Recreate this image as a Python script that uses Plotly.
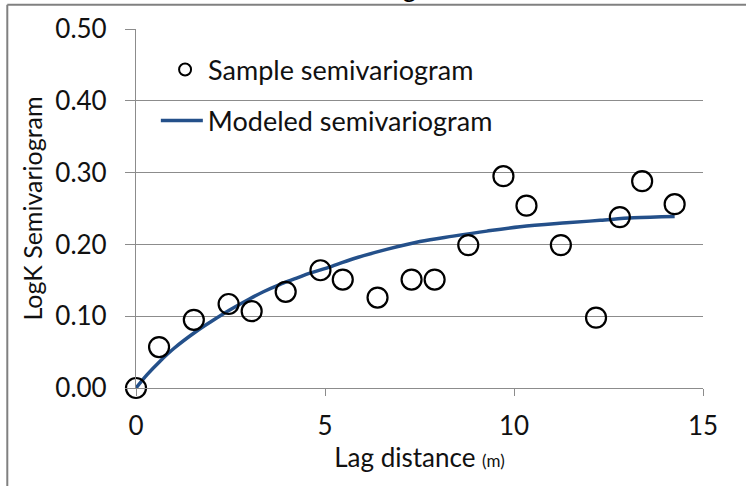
import plotly.graph_objects as go

# Sample semivariogram points
lag_sample = [0, 0.61, 1.53, 2.45, 3.06, 3.96, 4.88, 5.47, 6.39, 7.29, 7.90, 8.79, 9.72, 10.33, 11.24, 12.17, 12.80, 13.39, 14.25]
gamma_sample = [0.0, 0.057, 0.095, 0.117, 0.107, 0.134, 0.164, 0.151, 0.126, 0.151, 0.151, 0.199, 0.295, 0.254, 0.199, 0.098, 0.238, 0.288, 0.256]

# Modeled semivariogram
lag_model = [0, 0.3, 0.63, 1.0, 1.6, 2.0, 2.49, 3.0, 3.37, 3.8, 4.25, 4.6, 5.04, 5.75, 6.63, 7.51, 8.39, 9.28, 10.16, 11.39, 12.28, 13.16, 14.25]
gamma_model = [0.0, 0.019, 0.037, 0.055, 0.079, 0.093, 0.109, 0.124, 0.134, 0.144, 0.153, 0.160, 0.167, 0.180, 0.193, 0.204, 0.2115, 0.2185, 0.2245, 0.230, 0.2335, 0.237, 0.239]

x_ticks = [0, 5, 10, 15]
y_ticks = [0.0, 0.1, 0.2, 0.3, 0.4, 0.5]

FONT = "Lato"
GRID = "#8c8c8c"
LINE_BLUE = "#24508a"
FS = 26

fig = go.Figure()
fig.add_trace(go.Scatter(
    x=lag_model, y=gamma_model, mode="lines", name="Modeled semivariogram",
    line=dict(color=LINE_BLUE, width=3.5, shape="spline", smoothing=1.0),
    legend="legend2", cliponaxis=False,
))
fig.add_trace(go.Scatter(
    x=lag_sample, y=gamma_sample, mode="markers", name="Sample semivariogram",
    marker=dict(symbol="circle-open", size=20, color="black", line=dict(width=2.2, color="black")),
    legend="legend", cliponaxis=False,
))

fig.update_layout(
    width=746, height=486,
    margin=dict(l=136, r=43, t=29, b=98),
    paper_bgcolor="white", plot_bgcolor="white",
    font=dict(family=FONT, size=FS, color="#111111"),
    showlegend=True,
    legend=dict(x=0.046, y=0.886, xanchor="left", yanchor="middle",
                bgcolor="rgba(0,0,0,0)", font=dict(size=27, family=FONT),
                itemsizing="constant", itemwidth=36),
    legend2=dict(x=0.035, y=0.744, xanchor="left", yanchor="middle",
                 bgcolor="rgba(0,0,0,0)", font=dict(size=27, family=FONT),
                 itemwidth=42),
    xaxis=dict(range=[0, 15], tickvals=x_ticks, ticktext=[str(v) for v in x_ticks],
               showgrid=False, zeroline=False, showline=True, linecolor=GRID, linewidth=1.2,
               ticks="outside", ticklen=7, tickcolor=GRID, tickwidth=1,
               ticklabelstandoff=8,
               tickfont=dict(size=FS, family=FONT),
               title=dict(text='Lag distance <span style="font-size:17px">(m)</span>',
                          font=dict(size=FS, family=FONT), standoff=5)),
    yaxis=dict(range=[0, 0.5], tickvals=y_ticks, tickformat=".2f",
               showgrid=True, gridcolor=GRID, gridwidth=1.2, zeroline=False,
               showline=True, linecolor=GRID, linewidth=1.2,
               ticks="outside", ticklen=10, tickcolor=GRID, tickwidth=1.2,
               ticklabelstandoff=13,
               tickfont=dict(size=FS, family=FONT),
               title=dict(text="LogK Semivariogram", font=dict(size=25, family=FONT), standoff=5)),
    shapes=[
        dict(type="line", xref="paper", yref="paper", x0=-0.227, x1=-0.227, y0=-0.35, y1=1.0676,
             line=dict(color="#808080", width=2)),
        dict(type="line", xref="paper", yref="paper", x0=-0.227, x1=1.2, y0=1.0676, y1=1.0676,
             line=dict(color="#808080", width=2)),
    ],
    annotations=[
        dict(text="Semivariogram", xref="paper", yref="paper", x=0.575, y=1.068,
             xanchor="right", yanchor="bottom", showarrow=False,
             font=dict(size=FS, family=FONT, color="black")),
    ],
)

fig.write_html("out.html")
